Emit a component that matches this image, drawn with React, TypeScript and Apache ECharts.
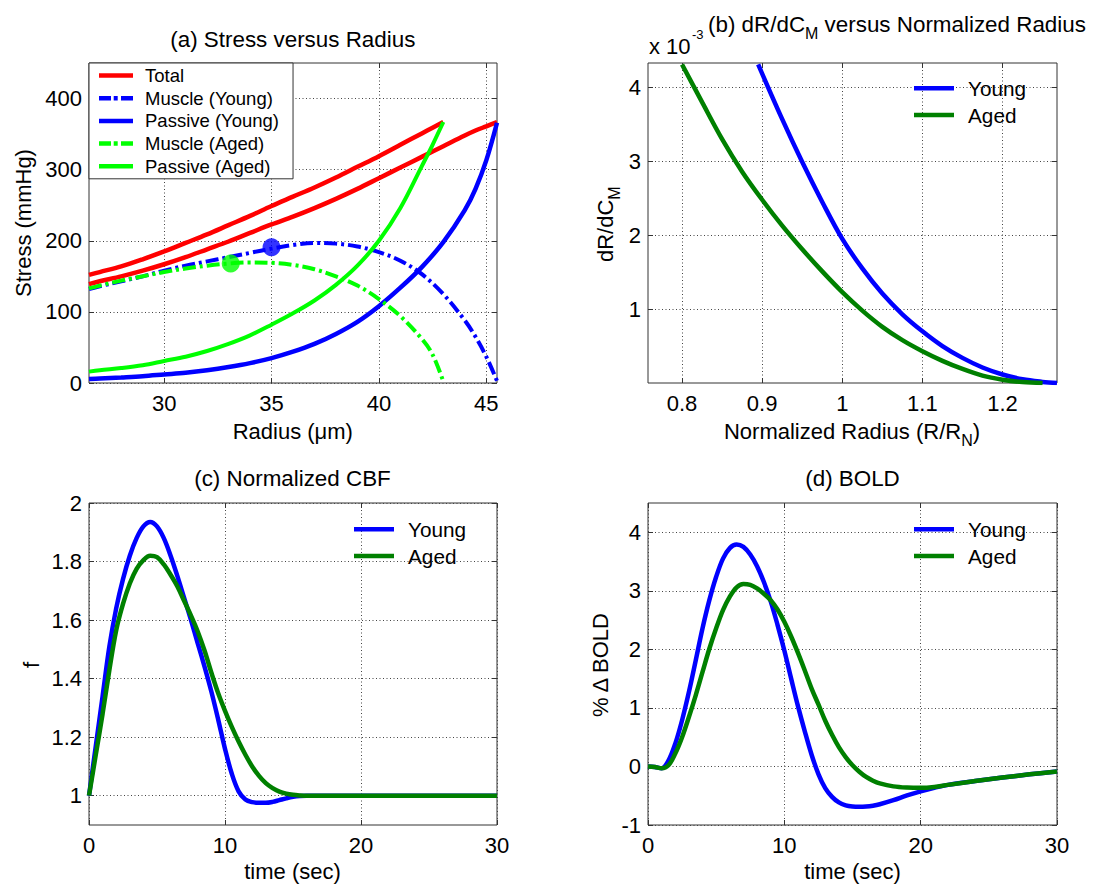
import React, { useEffect, useRef } from 'react';
import * as echarts from 'echarts';

const FONT = "'Liberation Sans', Arial, Helvetica, sans-serif";
const BLUE = '#0000ff';
const GREEN = '#008000';
const LIME = '#00ff00';
const RED = '#ff0000';
const DASHDOT = [13, 4, 3, 4];

// ---------- (a) Stress versus Radius ----------
const radiusYoung = [26.5, 27, 28, 29, 30, 31, 32, 33, 34, 35, 36, 37, 38, 39, 40, 41, 42, 43, 44, 44.5, 45, 45.5];
const totalYoung = [139, 143, 150, 158, 167, 177, 188, 199, 211, 223, 234, 246, 259, 273, 288, 303, 318, 333, 348, 355, 361, 367];
const muscleYoung = [132, 136, 143, 150, 158, 165, 171, 177, 183, 189, 194, 197, 196, 192, 184, 172, 153, 125, 88, 65, 37, 3];
const passiveYoung = [5.5, 6.3, 7.8, 9.5, 12, 14.5, 18, 22.5, 28, 35, 44, 55, 69, 86, 108, 134, 163, 198, 243, 273, 313, 366];

const radiusAged = [26.5, 27, 28, 29, 30, 31, 32, 33, 34, 35, 36, 37, 38, 39, 40, 41, 42, 42.5, 43];
const totalAged = [152, 156, 164, 174, 185, 197, 209, 222, 235, 249, 262, 275, 289, 304, 319, 335, 351, 359, 367];
const muscleAged = [133, 137, 144, 150, 156, 161, 165, 168, 169.5, 169, 166, 160, 150, 137, 118, 94, 62, 40, 2];
const passiveAged = [16, 18, 21, 25, 31, 37, 45, 55, 67, 82, 98, 116, 138, 165, 200, 246, 305, 335, 367];

const peakYoung = [35, 191];
const peakAged = [33.1, 168];

// ---------- (b) dR/dC_M versus Normalized Radius (values x 1e-3) ----------
const normRadiusYoung = [0.895, 0.925, 0.95, 0.975, 1.0, 1.025, 1.05, 1.075, 1.1, 1.125, 1.15, 1.175, 1.2, 1.225, 1.25, 1.268];
const dRdCYoung = [4.31, 3.57, 2.99, 2.45, 1.95, 1.55, 1.21, 0.93, 0.7, 0.5, 0.34, 0.21, 0.115, 0.05, 0.015, 0];
const normRadiusAged = [0.8, 0.825, 0.85, 0.875, 0.9, 0.925, 0.95, 0.975, 1.0, 1.025, 1.05, 1.075, 1.1, 1.125, 1.15, 1.175, 1.2, 1.225, 1.25];
const dRdCAged = [4.31, 3.8, 3.3, 2.86, 2.48, 2.13, 1.81, 1.51, 1.23, 0.98, 0.76, 0.58, 0.43, 0.3, 0.19, 0.1, 0.045, 0.012, 0];

// ---------- (c) Normalized CBF ----------
const timeC = [0, 0.5, 1, 1.5, 2, 2.5, 3, 3.5, 4, 4.5, 5, 5.5, 6, 6.5, 7, 7.5, 8, 8.5, 9, 9.5, 10, 10.5, 11, 11.5, 12, 12.5, 13, 13.5, 14, 14.5, 15, 15.5, 16, 18, 20, 25, 30];
const cbfYoung = [1.0, 1.17, 1.34, 1.51, 1.64, 1.74, 1.82, 1.88, 1.92, 1.935, 1.92, 1.88, 1.82, 1.75, 1.675, 1.6, 1.52, 1.44, 1.355, 1.26, 1.16, 1.075, 1.015, 0.987, 0.978, 0.976, 0.976, 0.979, 0.985, 0.991, 0.996, 0.999, 1.0, 1.0, 1.0, 1.0, 1.0];
const cbfAged = [1.0, 1.14, 1.28, 1.43, 1.565, 1.655, 1.725, 1.775, 1.805, 1.82, 1.815, 1.79, 1.755, 1.715, 1.665, 1.615, 1.56, 1.495, 1.42, 1.35, 1.29, 1.235, 1.185, 1.14, 1.1, 1.068, 1.043, 1.026, 1.014, 1.007, 1.003, 1.001, 1.0, 1.0, 1.0, 1.0, 1.0];

// ---------- (d) BOLD ----------
const timeD = [0, 0.5, 1, 1.5, 2, 2.5, 3, 3.5, 4, 4.5, 5, 5.5, 6, 6.5, 7, 7.5, 8, 8.5, 9, 9.5, 10, 10.5, 11, 11.5, 12, 12.5, 13, 13.5, 14, 14.5, 15, 15.5, 16, 16.5, 17, 18, 19, 20, 21, 22, 24, 26, 28, 30];
const boldYoung = [0, -0.01, -0.03, 0.1, 0.39, 0.79, 1.27, 1.81, 2.36, 2.84, 3.24, 3.55, 3.73, 3.79, 3.75, 3.62, 3.42, 3.15, 2.82, 2.42, 1.98, 1.5, 1.03, 0.6, 0.2, -0.13, -0.37, -0.52, -0.615, -0.665, -0.685, -0.69, -0.685, -0.67, -0.645, -0.575, -0.495, -0.425, -0.365, -0.315, -0.25, -0.19, -0.135, -0.085];
const boldAged = [0, -0.01, -0.03, 0.02, 0.22, 0.5, 0.845, 1.215, 1.615, 2.01, 2.36, 2.67, 2.9, 3.06, 3.115, 3.1, 3.04, 2.95, 2.84, 2.68, 2.47, 2.22, 1.94, 1.64, 1.33, 1.06, 0.78, 0.54, 0.33, 0.16, 0.02, -0.09, -0.18, -0.245, -0.29, -0.34, -0.36, -0.365, -0.35, -0.315, -0.25, -0.19, -0.135, -0.085];

// ---------- ticks ----------
const ticksAX = [30, 35, 40, 45];
const ticksAY = [0, 100, 200, 300, 400];
const ticksBX = [0.8, 0.9, 1, 1.1, 1.2];
const ticksBY = [1, 2, 3, 4];
const ticksCX = [0, 10, 20, 30];
const ticksCY = [1, 1.2, 1.4, 1.6, 1.8, 2];
const ticksDX = [0, 10, 20, 30];
const ticksDY = [-1, 0, 1, 2, 3, 4];

const legendA = ['Total', 'Muscle (Young)', 'Passive (Young)', 'Muscle (Aged)', 'Passive (Aged)'];
const legendAColors = [RED, BLUE, BLUE, LIME, LIME];
const legendAge = ['Young', 'Aged'];
const legendAgeColors = [BLUE, GREEN];

const ICON_SOLID_A = 'path://M0,0h34v4.5h-34z';
const ICON_DASHDOT_A = 'path://M0,0h12v4.5h-12zM14.7,0h4v4.5h-4zM22,0h12v4.5h-12z';
const ICON_SOLID_B = 'path://M0,0h40v4.5h-40z';

const TITLE_SIZE = 22.4;
const LABEL_SIZE = 22;

const zip = (xs: number[], ys: number[]) => xs.map((x, i) => [x, ys[i]]);

let measureCtx: CanvasRenderingContext2D | null = null;
function measure(text: string, size: number) {
  if (!measureCtx) measureCtx = document.createElement('canvas').getContext('2d');
  measureCtx!.font = `${size}px ${FONT}`;
  return measureCtx!.measureText(text).width;
}

type Part = { t: string; sub?: boolean; gap?: boolean };
function subText(parts: Part[], x: number, y: number, align: 'center' | 'left', rotation = 0, mainSize = LABEL_SIZE) {
  const SUB = 16, SHIFT = 9;
  const space = measure(' ', mainSize);
  const widths = parts.map((p) => measure(p.t, p.sub ? SUB : mainSize) + (p.gap ? space : 0));
  const total = widths.reduce((a, b) => a + b, 0);
  let cx = align === 'center' ? -total / 2 : 0;
  const children = parts.map((p, i) => {
    const el = {
      type: 'text',
      x: cx + (p.gap ? space : 0),
      y: p.sub ? SHIFT : 0,
      style: {
        text: p.t,
        fontSize: p.sub ? SUB : mainSize,
        fontFamily: FONT,
        fill: '#000',
        align: 'left',
        textAlign: 'left',
        verticalAlign: 'middle',
        textVerticalAlign: 'middle',
      },
    };
    cx += widths[i];
    return el;
  });
  return { type: 'group', x, y, rotation, children, silent: true };
}

function plainText(text: string, x: number, y: number, size = LABEL_SIZE, rotation = 0, align = 'center') {
  return {
    type: 'text',
    x,
    y,
    rotation,
    silent: true,
    style: {
      text,
      fontSize: size,
      fontFamily: FONT,
      fill: '#000',
      align,
      textAlign: align,
      verticalAlign: 'middle',
      textVerticalAlign: 'middle',
    },
  };
}

function mainAxis(isX: boolean, gridIndex: number, range: number[], ticks: number[]) {
  return {
    type: 'value',
    gridIndex,
    position: isX ? 'bottom' : 'left',
    min: range[0],
    max: range[1],
    nameMoveOverlap: false,
    axisLine: { show: false, onZero: false },
    axisTick: { show: true, inside: true, length: 5, customValues: ticks, lineStyle: { color: '#333', width: 1 } },
    axisLabel: { show: true, customValues: ticks, margin: isX ? 9 : 7, color: '#000', fontSize: LABEL_SIZE, fontFamily: FONT },
    splitLine: { show: true, lineStyle: { color: '#444', width: 1, type: [1, 2.5] } },
  };
}

function mirrorAxis(isX: boolean, gridIndex: number, range: number[], ticks: number[]) {
  return {
    type: 'value',
    gridIndex,
    position: isX ? 'top' : 'right',
    min: range[0],
    max: range[1],
    nameMoveOverlap: false,
    axisLine: { show: false, onZero: false },
    axisTick: { show: true, inside: true, length: 5, customValues: ticks, lineStyle: { color: '#333', width: 1 } },
    axisLabel: { show: false },
    splitLine: { show: false },
  };
}

function lineSeries(name: string, panel: number, data: number[][], color: string, width: number, dash?: number[]) {
  return {
    name,
    type: 'line',
    xAxisIndex: panel * 2,
    yAxisIndex: panel * 2,
    data,
    symbol: 'none',
    showSymbol: false,
    smooth: 0.35,
    silent: true,
    emphasis: { disabled: true },
    itemStyle: { color },
    lineStyle: { color, width, type: dash || 'solid', cap: 'butt' },
  };
}

function buildOption() {
  const gridBoxes = [
    { left: 89, top: 63, width: 408, height: 320 },
    { left: 648, top: 63, width: 409, height: 320 },
    { left: 89, top: 503, width: 408, height: 322 },
    { left: 648, top: 503, width: 409, height: 322 },
  ];
  const grid = gridBoxes.map((g) => ({
    ...g,
    show: true,
    borderColor: '#333',
    borderWidth: 1,
    backgroundColor: 'transparent',
    containLabel: false,
    outerBoundsMode: 'none',
  }));
  const panels = [
    { x: [26.5, 45.5], y: [0, 450], xt: ticksAX, yt: ticksAY },
    { x: [0.7575, 1.268], y: [0, 4.33], xt: ticksBX, yt: ticksBY },
    { x: [0, 30], y: [0.9, 2], xt: ticksCX, yt: ticksCY },
    { x: [0, 30], y: [-1, 4.5], xt: ticksDX, yt: ticksDY },
  ];
  const xAxis: any[] = [];
  const yAxis: any[] = [];
  panels.forEach((p, i) => {
    xAxis.push(mainAxis(true, i, p.x, p.xt));
    xAxis.push(mirrorAxis(true, i, p.x, p.xt));
    yAxis.push(mainAxis(false, i, p.y, p.yt));
    yAxis.push(mirrorAxis(false, i, p.y, p.yt));
  });

  const series: any[] = [
    lineSeries('Total', 0, zip(radiusAged, totalAged), RED, 4.5),
    lineSeries('Total', 0, zip(radiusYoung, totalYoung), RED, 4.5),
    lineSeries('Muscle (Young)', 0, zip(radiusYoung, muscleYoung), BLUE, 4, DASHDOT),
    lineSeries('Passive (Young)', 0, zip(radiusYoung, passiveYoung), BLUE, 4.5),
    lineSeries('Muscle (Aged)', 0, zip(radiusAged, muscleAged), LIME, 4, DASHDOT),
    lineSeries('Passive (Aged)', 0, zip(radiusAged, passiveAged), LIME, 4),
    {
      type: 'scatter', xAxisIndex: 0, yAxisIndex: 0, data: [peakYoung], symbol: 'circle', symbolSize: 18,
      itemStyle: { color: BLUE }, silent: true, z: 5,
    },
    {
      type: 'scatter', xAxisIndex: 0, yAxisIndex: 0, data: [peakAged], symbol: 'circle', symbolSize: 18,
      itemStyle: { color: LIME }, silent: true, z: 5,
    },
    lineSeries('Young', 1, zip(normRadiusYoung, dRdCYoung), BLUE, 4.5),
    lineSeries('Aged', 1, zip(normRadiusAged, dRdCAged), GREEN, 4.5),
    lineSeries('Young', 2, zip(timeC, cbfYoung), BLUE, 4.5),
    lineSeries('Aged', 2, zip(timeC, cbfAged), GREEN, 4.5),
    lineSeries('Young', 3, zip(timeD, boldYoung), BLUE, 4.5),
    lineSeries('Aged', 3, zip(timeD, boldAged), GREEN, 4.5),
  ];

  const ageLegend = (left: number, top: number) => ({
    show: true,
    orient: 'vertical',
    left,
    top,
    padding: 0,
    itemWidth: 40,
    itemHeight: 4.5,
    itemGap: 5.7,
    symbolKeepAspect: false,
    selectedMode: false,
    itemStyle: { borderWidth: 0 },
    textStyle: { fontSize: 20.75, lineHeight: 21, fontFamily: FONT, color: '#000', padding: [0, 0, 0, 9] },
    data: legendAge.map((n, i) => ({
      name: n,
      icon: ICON_SOLID_B,
      itemStyle: { color: legendAgeColors[i], borderWidth: 0 },
    })),
  });

  const legend = [
    {
      show: true,
      orient: 'vertical',
      left: 89,
      top: 63,
      padding: [3, 14, 3, 10],
      itemWidth: 34,
      itemHeight: 4.5,
      itemGap: 3.7,
      symbolKeepAspect: false,
      selectedMode: false,
      backgroundColor: '#fff',
      borderColor: '#333',
      borderWidth: 1,
      borderRadius: 0,
      itemStyle: { borderWidth: 0 },
      textStyle: { fontSize: 18.5, lineHeight: 18.5, fontFamily: FONT, color: '#000', padding: [0, 0, 0, 7] },
      data: legendA.map((n, i) => ({
        name: n,
        icon: n.indexOf('Muscle') === 0 ? ICON_DASHDOT_A : ICON_SOLID_A,
        itemStyle: { color: legendAColors[i], borderWidth: 0 },
      })),
    },
    ageLegend(914, 77.8),
    ageLegend(354, 518.8),
    ageLegend(914, 518.8),
  ];

  const graphic: any[] = [
    plainText('(a) Stress versus Radius', 292.8, 39, TITLE_SIZE),
    subText([{ t: '(b) dR/dC' }, { t: 'M', sub: true }, { t: 'versus Normalized Radius', gap: true }], 708, 24, 'left', 0, TITLE_SIZE),
    plainText('(c) Normalized CBF', 292.5, 478.3, TITLE_SIZE),
    plainText('(d) BOLD', 852.5, 478, TITLE_SIZE),
    plainText('x 10', 649, 46.7, LABEL_SIZE, 0, 'left'),
    plainText('-3', 692, 34.3, 13, 0, 'left'),
    plainText('Radius (\u03bcm)', 292.8, 431.7),
    subText([{ t: 'Normalized Radius (R/R' }, { t: 'N', sub: true }, { t: ')' }], 852, 431.7, 'center'),
    plainText('time (sec)', 292.5, 871.7),
    plainText('time (sec)', 852.5, 871.7),
    plainText('Stress (mmHg)', 23.3, 223, LABEL_SIZE, Math.PI / 2),
    subText([{ t: 'dR/dC' }, { t: 'M', sub: true }], 605.5, 224.2, 'center', Math.PI / 2),
    plainText('f', 31.5, 665, LABEL_SIZE, Math.PI / 2),
    plainText('% \u0394 BOLD', 600.3, 665, LABEL_SIZE, Math.PI / 2),
  ];

  return {
    animation: false,
    backgroundColor: '#fff',
    textStyle: { fontFamily: FONT },
    grid,
    xAxis,
    yAxis,
    legend,
    series,
    graphic,
  };
}

export default function App() {
  const ref = useRef<HTMLDivElement>(null);
  useEffect(() => {
    if (!ref.current) return;
    const chart = echarts.init(ref.current, null, { renderer: 'svg' });
    chart.setOption(buildOption() as any);
    return () => {
      chart.dispose();
    };
  }, []);
  return (
    <div
      ref={ref}
      style={{ position: 'absolute', left: 0, top: 0, width: 1094, height: 888, background: '#fff' }}
    />
  );
}
